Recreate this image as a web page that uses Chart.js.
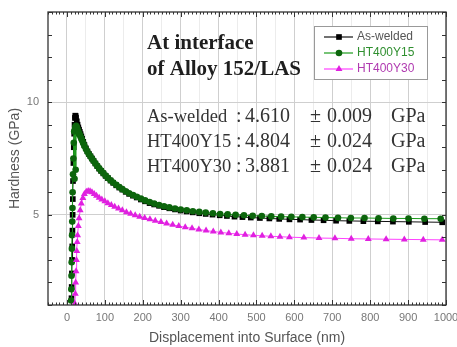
<!DOCTYPE html>
<html>
<head>
<meta charset="utf-8">
<script src="https://cdn.jsdelivr.net/npm/chart.js@4"></script>
<style>
  html, body { margin: 0; padding: 0; background: #fff; }
</style>
</head>
<body>
<canvas id="grafico" width="457" height="347"></canvas>
<script>
// series names
const seriesNames = ['As-welded', 'HT400Y15', 'HT400Y30'];

// As-welded (nm, GPa)
const xAsWelded = [12,12.5,13,13.5,14,14.5,15,15.5,16, 17,18,19,20,21,22,23,24, 26,28,30,32,34,36,38,40,
  43,46,50,54,58,62,66,70, 75,80,85,90,96,102,108,115, 122,130,138,146,155,164,174,184,
  195,206,218,230,243,256,270,285, 300,316,332,349,366,
  384,403,422,442,463,485,509,534,560,587,615,645,677,710,745,782,820,860,902,945,990];
const yAsWelded = [1.3,1.8,2.4,3.0,3.6,4.3,5.0,5.7,6.5, 7.3,8.0,8.6,9.0,9.3,9.4,9.38,9.3, 9.15,9.0,8.88,8.78,8.68,8.58,8.48,8.38,
  8.24,8.1,7.95,7.82,7.7,7.6,7.5,7.4, 7.28,7.16,7.05,6.95,6.84,6.73,6.63,6.52, 6.42,6.31,6.21,6.12,6.02,5.93,5.85,5.77,
  5.68,5.6,5.52,5.46,5.4,5.34,5.29,5.24, 5.19,5.15,5.11,5.07,5.04,
  5.01,4.98,4.95,4.92,4.9,4.88,4.86,4.84,4.82,4.8,4.79,4.77,4.76,4.74,4.73,4.72,4.71,4.7,4.69,4.68,4.67];

// HT400Y15
const xHT15 = [11,11.5,12,12.5,13,13.5,14,14.5,15, 16,17,18,19,20,21,22,23,24, 26,28,30,32,34,36,38,40,
  43,46,50,54,58,62,66,70, 75,80,85,90,96,102,108,115, 122,130,138,146,155,164,174,184,
  195,206,218,230,243,256,270,285, 300,316,332,349,366,
  385,404,424,445,467,490,514,539,565,592,621,651,682,715,749,785,822,861,901,943,986];
const yHT15 = [1.2,1.7,2.3,2.9,3.5,4.1,4.7,5.3,6.0, 6.8,7.5,8.2,8.7,6.6,8.8,8.9,7.0,8.95, 8.9,8.8,8.7,8.62,8.54,8.46,8.38,8.3,
  8.18,8.06,7.92,7.8,7.69,7.59,7.49,7.4, 7.28,7.17,7.06,6.96,6.85,6.74,6.64,6.53, 6.43,6.33,6.23,6.14,6.05,5.96,5.88,5.8,
  5.72,5.64,5.57,5.5,5.44,5.38,5.33,5.28, 5.24,5.2,5.16,5.13,5.1,
  5.07,5.04,5.02,5.0,4.98,4.96,4.95,4.93,4.92,4.91,4.9,4.89,4.88,4.87,4.86,4.86,4.85,4.84,4.84,4.83,4.83];

// HT400Y30
const xHT30 = [21,22,23,24,25,26,27,28, 30,32,35,38,42,46,51,56, 61,66,72,78,85,92,100,108,
  117,126,136,146,157,168,180,192, 205,219,233,248,263,279,295,312, 330,348,367,386,406,427,448,470,
  492,515,538,562,587, 625,665,707,750,795,842,890,940,990];
const yHT30 = [1.05,1.5,2.0,2.5,3.0,3.4,3.8,4.1, 4.5,4.85,5.2,5.5,5.75,5.92,6.02,6.06, 6.05,6.0,5.93,5.85,5.76,5.68,5.6,5.52,
  5.44,5.36,5.28,5.2,5.12,5.05,4.98,4.92, 4.86,4.8,4.74,4.68,4.62,4.56,4.5,4.45, 4.4,4.35,4.3,4.26,4.22,4.18,4.15,4.12,
  4.09,4.07,4.05,4.03,4.01, 3.99,3.97,3.96,3.94,3.93,3.92,3.91,3.9,3.89];

// tick labels
const xTickLabels = [0,100,200,300,400,500,600,700,800,900,1000];
const yTickLabels = [5,10];

// annotation text
const noteLines = ['At interface', 'of Alloy 152/LAS'];
const resultMeans = ['4.610', '4.804', '3.881'];
const resultErrs = ['0.009', '0.024', '0.024'];

const pares = (xs, ys) => xs.map((x, i) => ({ x: x, y: ys[i] }));

const desenhaMarcador = (c, estilo, x, y, r, cor) => {
  c.fillStyle = cor;
  c.beginPath();
  if (estilo === 'rect') {
    const s = r * Math.SQRT1_2;
    c.rect(x - s, y - s, 2 * s, 2 * s);
  } else if (estilo === 'triangle') {
    c.moveTo(x, y - r);
    c.lineTo(x + r * 0.866, y + r * 0.5);
    c.lineTo(x - r * 0.866, y + r * 0.5);
    c.closePath();
  } else {
    c.arc(x, y, r, 0, Math.PI * 2);
  }
  c.fill();
};

const extras = {
  id: 'extras',
  afterDraw(chart) {
    const c = chart.ctx;
    const a = chart.chartArea;
    const sx = chart.scales.x, sy = chart.scales.y;
    c.save();

    // inner ticks on all sides
    c.strokeStyle = '#333';
    c.lineWidth = 1;
    c.beginPath();
    for (let v = -50; v <= 1000; v += 10) {
      const px = Math.round(sx.getPixelForValue(v)) + 0.5;
      const len = v % 100 === 0 ? 5 : 2.5;
      c.moveTo(px, a.bottom); c.lineTo(px, a.bottom - len);
      c.moveTo(px, a.top); c.lineTo(px, a.top + len);
    }
    for (let v = 1; v <= 14; v += 1) {
      const py = Math.round(sy.getPixelForValue(v)) + 0.5;
      c.moveTo(a.left, py); c.lineTo(a.left + 4, py);
      c.moveTo(a.right, py); c.lineTo(a.right - 4, py);
    }
    c.stroke();

    // frame
    c.lineWidth = 1.3;
    c.strokeStyle = '#333';
    c.strokeRect(a.left, a.top, a.right - a.left, a.bottom - a.top);

    // text block
    c.fillStyle = '#1e1e1e';
    c.font = 'bold 21px "Liberation Serif"';
    c.textBaseline = 'alphabetic';
    c.textAlign = 'left';
    c.fillText(noteLines[0], 147, 49);
    c.fillText(noteLines[1], 147, 75);

    c.fillStyle = '#333';
    const bases = [122, 147, 172];
    seriesNames.forEach((n, i) => {
      const b = bases[i];
      c.font = '18.5px "Liberation Serif"';
      c.fillText(n, 147, b);
      c.font = '20px "Liberation Serif"';
      c.fillText(':', 236, b);
      c.fillText(resultMeans[i], 245, b);
      c.fillText('\u00b1', 310, b);
      c.fillText(resultErrs[i], 327, b);
      c.fillText('GPa', 391, b);
    });

    // legend
    const lx = 314, ly = 26, lw = 113, lh = 53;
    c.fillStyle = '#fff';
    c.fillRect(lx, ly, lw, lh);
    c.strokeStyle = '#999';
    c.lineWidth = 1;
    c.strokeRect(lx + 0.5, ly + 0.5, lw, lh);
    const cores = ['#555', '#2f8f2f', '#b03ab0'];
    c.font = '12px "Liberation Sans"';
    c.textBaseline = 'middle';
    chart.data.datasets.forEach((d, i) => {
      const y = ly + 11 + i * 16;
      c.strokeStyle = d.borderColor;
      c.lineWidth = 1.2;
      c.beginPath();
      c.moveTo(lx + 10, y); c.lineTo(lx + 39, y);
      c.stroke();
      desenhaMarcador(c, d.pointStyle, lx + 25, y, d.pointRadius, d.pointBackgroundColor);
      c.fillStyle = cores[i];
      c.fillText(d.label, lx + 43, y);
    });
    c.restore();
  }
};

const ctx = document.getElementById('grafico');

let grafico = new Chart(ctx, {
  type: 'scatter',
  data: {
    datasets: [{
      label: seriesNames[0],
      data: pares(xAsWelded, yAsWelded),
      showLine: true,
      borderColor: '#111',
      borderWidth: 1,
      pointStyle: 'rect',
      pointRadius: 4,
      pointBackgroundColor: '#000',
      pointBorderColor: '#000',
      pointBorderWidth: 0,
      order: 2
    }, {
      label: seriesNames[1],
      data: pares(xHT15, yHT15),
      showLine: true,
      borderColor: '#1c9c1c',
      borderWidth: 1,
      pointStyle: 'circle',
      pointRadius: 3.3,
      pointBackgroundColor: '#0c650c',
      pointBorderColor: '#0c650c',
      pointBorderWidth: 0,
      order: 1
    }, {
      label: seriesNames[2],
      data: pares(xHT30, yHT30),
      showLine: true,
      borderColor: '#ff40ff',
      borderWidth: 1,
      pointStyle: 'triangle',
      pointRadius: 4,
      pointBackgroundColor: '#e020e0',
      pointBorderColor: '#e020e0',
      pointBorderWidth: 0,
      order: 0
    }]
  },
  options: {
    responsive: false,
    animation: false,
    devicePixelRatio: 1,
    layout: { padding: { left: 2, top: 12, right: 11, bottom: 0 } },
    plugins: {
      legend: { display: false },
      tooltip: { enabled: false }
    },
    scales: {
      x: {
        type: 'linear',
        min: -50,
        max: 1000,
        afterFit: s => { s.height = 42; s.paddingLeft = 0; s.paddingRight = 0; },
        ticks: {
          stepSize: 50,
          autoSkip: false,
          maxRotation: 0,
          padding: 6,
          color: '#777',
          font: { family: 'Liberation Sans', size: 11 },
          callback: v => xTickLabels.includes(v) ? String(v) : ''
        },
        grid: {
          drawTicks: false,
          color: c => c.tick.value === -50 ? 'rgba(0,0,0,0)' :
            (c.tick.value % 100 === 0 ? '#cfcfcf' : '#ececec'),
          lineWidth: 1
        },
        border: { display: false },
        title: {
          display: true,
          text: 'Displacement into Surface (nm)',
          color: '#555',
          font: { family: 'Liberation Sans', size: 14 },
          padding: { top: 0, bottom: 0 }
        }
      },
      y: {
        min: 1,
        max: 14,
        afterFit: s => { s.width = 46; s.paddingTop = 0; s.paddingBottom = 0; },
        ticks: {
          stepSize: 1,
          autoSkip: false,
          padding: 9,
          color: '#777',
          font: { family: 'Liberation Sans', size: 11 },
          callback: v => yTickLabels.includes(v) ? String(v) : ''
        },
        grid: {
          drawTicks: false,
          color: c => yTickLabels.includes(c.tick.value) ? '#cfcfcf' : 'rgba(0,0,0,0)',
          lineWidth: 1
        },
        border: { display: false },
        title: {
          display: true,
          text: 'Hardness (GPa)',
          color: '#555',
          font: { family: 'Liberation Sans', size: 14 },
          padding: { top: 5, bottom: 0 }
        }
      }
    }
  },
  plugins: [extras]
});

// Chart.js
</script>
</body>
</html>
